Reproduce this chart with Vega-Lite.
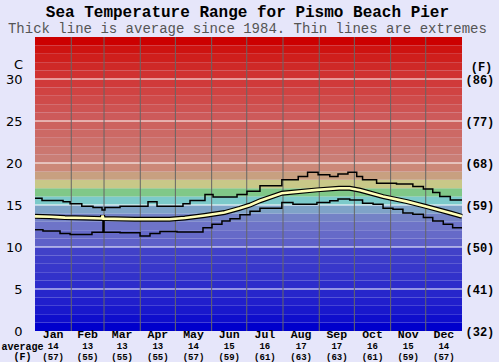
{
  "$schema": "https://vega.github.io/schema/vega-lite/v6.json",
  "background": "#E6E6FA",
  "padding": {"left": 0, "top": 3, "right": 5, "bottom": 0},
  "title": {
    "text": "Sea Temperature Range for Pismo Beach Pier",
    "subtitle": "Thick line is average since 1984. Thin lines are extremes",
    "font": "Liberation Mono", "fontSize": 16, "fontWeight": "bold", "color": "#000000",
    "subtitleFont": "Liberation Mono", "subtitleFontSize": 14, "subtitleColor": "#555555",
    "subtitlePadding": 2, "offset": 1, "anchor": "middle"
  },
  "config": {"view": {"stroke": null}},
  "spacing": 0,
  "bounds": "flush",
  "datasets": {
    "bands": [
      {"lo":0,"hi":1},{"lo":1,"hi":2},{"lo":2,"hi":3},{"lo":3,"hi":4},{"lo":4,"hi":5},
      {"lo":5,"hi":6},{"lo":6,"hi":7},{"lo":7,"hi":8},{"lo":8,"hi":9},{"lo":9,"hi":10},
      {"lo":10,"hi":11},{"lo":11,"hi":12},{"lo":12,"hi":13},{"lo":13,"hi":14},{"lo":14,"hi":15},
      {"lo":15,"hi":16},{"lo":16,"hi":17},{"lo":17,"hi":18},{"lo":18,"hi":19},{"lo":19,"hi":20},
      {"lo":20,"hi":21},{"lo":21,"hi":22},{"lo":22,"hi":23},{"lo":23,"hi":24},{"lo":24,"hi":25},
      {"lo":25,"hi":26},{"lo":26,"hi":27},{"lo":27,"hi":28},{"lo":28,"hi":29},{"lo":29,"hi":30},
      {"lo":30,"hi":31},{"lo":31,"hi":32},{"lo":32,"hi":33},{"lo":33,"hi":34},{"lo":34,"hi":35}
    ],
    "hgrid": [{"c":5},{"c":10},{"c":15},{"c":20},{"c":25},{"c":30}],
    "mgrid": [{"d":31},{"d":59},{"d":90},{"d":120},{"d":151},{"d":181},{"d":212},{"d":243},{"d":273},{"d":304},{"d":334}],
    "maxline": [
      {"d":0,"t":15.8},{"d":6,"t":15.55},{"d":24,"t":15.4},{"d":30,"t":15.15},{"d":40,"t":14.85},
      {"d":49.6,"t":14.7},{"d":57.3,"t":14.4},{"d":59.8,"t":14.7},{"d":72.7,"t":14.85},{"d":96.6,"t":15.4},
      {"d":104.3,"t":14.85},{"d":126.5,"t":15.15},{"d":132.5,"t":15.55},{"d":145.3,"t":16.25},{"d":152.2,"t":15.95},
      {"d":172.7,"t":16.25},{"d":181.2,"t":16.65},{"d":192.3,"t":17.3},{"d":211,"t":18.0},{"d":225,"t":18.4},
      {"d":233,"t":18.9},{"d":242,"t":18.6},{"d":252,"t":18.4},{"d":259,"t":18.7},{"d":267.5,"t":18.9},
      {"d":275,"t":18.4},{"d":280,"t":18.0},{"d":292,"t":17.6},{"d":309,"t":17.5},{"d":323,"t":17.2},
      {"d":332,"t":16.9},{"d":340,"t":16.5},{"d":346,"t":16.0},{"d":355,"t":15.6},{"d":365,"t":15.6}
    ],
    "minline": [
      {"d":0,"t":12.05},{"d":6.8,"t":11.9},{"d":21.4,"t":11.6},{"d":30,"t":11.5},{"d":48.7,"t":11.75},
      {"d":58.1,"t":13.5},{"d":59,"t":11.75},{"d":72.7,"t":11.7},{"d":89.8,"t":11.3},{"d":98.3,"t":11.6},
      {"d":106.8,"t":11.85},{"d":121.4,"t":11.8},{"d":143.6,"t":12.3},{"d":151.3,"t":12.7},{"d":159.8,"t":13.1},
      {"d":166.7,"t":13.35},{"d":175.2,"t":13.85},{"d":183.8,"t":14.25},{"d":192.3,"t":14.6},{"d":211,"t":15.3},
      {"d":220.5,"t":15.1},{"d":241,"t":15.3},{"d":252,"t":15.5},{"d":259,"t":15.7},{"d":269,"t":15.6},
      {"d":280,"t":15.2},{"d":289,"t":15.1},{"d":297.5,"t":14.6},{"d":306,"t":14.5},{"d":314.5,"t":14.05},
      {"d":323,"t":13.9},{"d":332,"t":13.5},{"d":340,"t":13.1},{"d":349,"t":12.7},{"d":357,"t":12.3},{"d":365,"t":12.3}
    ],
    "avgline": [
      {"d":0,"t":13.65},{"d":12.8,"t":13.6},{"d":25.6,"t":13.5},{"d":42.7,"t":13.45},{"d":57.2,"t":13.4},
      {"d":57.8,"t":13.75},{"d":58.4,"t":13.38},{"d":85.5,"t":13.3},{"d":115,"t":13.3},{"d":128,"t":13.45},
      {"d":145,"t":13.75},{"d":162,"t":14.1},{"d":175,"t":14.6},{"d":184,"t":15.0},{"d":192.3,"t":15.5},
      {"d":211,"t":16.4},{"d":241,"t":16.8},{"d":260,"t":17.0},{"d":269,"t":17.0},{"d":278,"t":16.75},
      {"d":297.5,"t":16.0},{"d":318,"t":15.4},{"d":335,"t":14.8},{"d":355,"t":14.05},{"d":365,"t":13.65}
    ],
    "months": [
      {"month":"Jan","mid":15.5,"c":14,"f":57},{"month":"Feb","mid":45,"c":13,"f":55},
      {"month":"Mar","mid":74.5,"c":13,"f":55},{"month":"Apr","mid":105,"c":13,"f":55},
      {"month":"May","mid":135.5,"c":14,"f":57},{"month":"Jun","mid":166,"c":15,"f":59},
      {"month":"Jul","mid":196.5,"c":16,"f":61},{"month":"Aug","mid":227.5,"c":17,"f":63},
      {"month":"Sep","mid":258,"c":17,"f":63},{"month":"Oct","mid":288.5,"c":16,"f":61},
      {"month":"Nov","mid":319,"c":15,"f":59},{"month":"Dec","mid":349.5,"c":14,"f":57}
    ]
  },
  "vconcat": [
    {
      "width": 427,
      "height": 294,
      "layer": [
        {
          "data": {"name": "bands"},
          "mark": {"type": "rect", "strokeWidth": 0},
          "encoding": {
            "y": {"field": "lo", "type": "quantitative",
              "scale": {"domain": [0, 35], "nice": false, "zero": false},
              "axis": {"orient": "left", "values": [0,5,10,15,20,25,30], "domain": false, "ticks": false, "grid": false,
                "labelFont": "DejaVu Sans", "labelFontSize": 13, "labelColor": "#000000", "labelPadding": 13,
                "title": "C", "titleAngle": 0, "titleX": -17, "titleY": 27, "titleAlign": "center", "titleBaseline": "middle",
                "titleFont": "DejaVu Sans", "titleFontSize": 13, "titleFontWeight": "normal", "titleColor": "#000000"}},
            "y2": {"field": "hi"},
            "color": {"field": "lo", "type": "quantitative", "legend": null,
              "scale": {"domain": [0, 9, 10, 12, 13, 14, 15, 16, 17, 18, 19, 20, 25, 29, 34],
                "range": ["#0000CC", "#4141C8", "#5E60C8", "#6E74C8", "#7482C6", "#7FA3C8", "#7CCACA", "#80C888", "#C8C888", "#C8A080", "#CC8878", "#CA7E76", "#CD5A5A", "#D03A3A", "#CC0000"]}}
          }
        },
        {
          "data": {"name": "hgrid"},
          "mark": {"type": "rule", "color": "#FFFFFF", "strokeWidth": 1.2},
          "encoding": {
            "y": {"field": "c", "type": "quantitative",
              "axis": {"orient": "right", "values": [0,5,10,15,20,25,30], "domain": false, "ticks": false, "grid": false,
                "labelExpr": "'(' + format(datum.value*9/5+32, 'd') + ')'",
                "labelFont": "Liberation Mono", "labelFontWeight": "bold", "labelFontSize": 12, "labelColor": "#000000", "labelPadding": 3,
                "title": "(F)", "titleAngle": 0, "titleX": 19, "titleY": 29, "titleAlign": "center", "titleBaseline": "middle",
                "titleFont": "Liberation Mono", "titleFontSize": 12, "titleFontWeight": "bold", "titleColor": "#000000"}}
          }
        },
        {
          "data": {"name": "mgrid"},
          "mark": {"type": "rule", "color": "#666666", "strokeWidth": 1},
          "encoding": {
            "x": {"field": "d", "type": "quantitative", "scale": {"domain": [0, 365], "nice": false, "zero": false}, "axis": null}
          }
        },
        {
          "data": {"name": "maxline"},
          "mark": {"type": "line", "color": "#000000", "strokeWidth": 1.5, "interpolate": "step-after"},
          "encoding": {
            "x": {"field": "d", "type": "quantitative", "axis": null},
            "y": {"field": "t", "type": "quantitative", "axis": null}
          }
        },
        {
          "data": {"name": "minline"},
          "mark": {"type": "line", "color": "#000000", "strokeWidth": 1.5, "interpolate": "step-after"},
          "encoding": {
            "x": {"field": "d", "type": "quantitative", "axis": null},
            "y": {"field": "t", "type": "quantitative", "axis": null}
          }
        },
        {
          "data": {"name": "avgline"},
          "mark": {"type": "line", "color": "#000000", "strokeWidth": 5},
          "encoding": {
            "x": {"field": "d", "type": "quantitative", "axis": null},
            "y": {"field": "t", "type": "quantitative", "axis": null}
          }
        },
        {
          "data": {"name": "avgline"},
          "mark": {"type": "line", "color": "#FFFFB8", "strokeWidth": 2.6},
          "encoding": {
            "x": {"field": "d", "type": "quantitative", "axis": null},
            "y": {"field": "t", "type": "quantitative", "axis": null}
          }
        }
      ],
      "resolve": {"axis": {"y": "independent"}}
    },
    {
      "width": 427,
      "height": 30,
      "data": {"name": "months"},
      "transform": [{"calculate": "'(' + datum.f + ')'", "as": "flabel"}],
      "layer": [
        {
          "mark": {"type": "text", "font": "Liberation Mono", "fontWeight": "bold", "fontSize": 11.5, "color": "#000000"},
          "encoding": {
            "x": {"field": "mid", "type": "quantitative", "scale": {"domain": [0, 365], "nice": false, "zero": false}, "axis": null},
            "y": {"datum": "m", "type": "ordinal",
              "scale": {"type": "point", "domain": ["m", "c", "f"], "padding": 0.4},
              "axis": {"orient": "left", "domain": false, "ticks": false, "grid": false,
                "labelExpr": "datum.value == 'c' ? 'average' : datum.value == 'f' ? '(F)' : ''",
                "labelAlign": "center", "labelPadding": 13, "labelFont": "Liberation Mono", "labelFontWeight": "bold",
                "labelFontSize": 10, "labelColor": "#000000", "title": null}},
            "text": {"field": "month"}
          }
        },
        {
          "mark": {"type": "text", "font": "Liberation Mono", "fontWeight": "bold", "fontSize": 9, "color": "#000000"},
          "encoding": {
            "x": {"field": "mid", "type": "quantitative"},
            "y": {"datum": "c", "type": "ordinal"},
            "text": {"field": "c"}
          }
        },
        {
          "mark": {"type": "text", "font": "Liberation Mono", "fontWeight": "bold", "fontSize": 9, "color": "#000000"},
          "encoding": {
            "x": {"field": "mid", "type": "quantitative"},
            "y": {"datum": "f", "type": "ordinal"},
            "text": {"field": "flabel"}
          }
        }
      ]
    }
  ]
}
